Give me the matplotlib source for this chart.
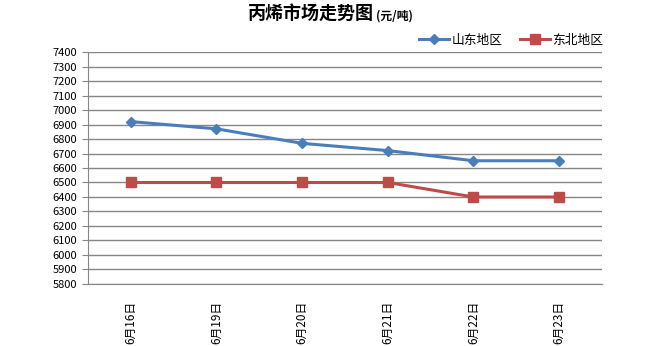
import matplotlib.pyplot as plt

plt.rcParams['font.family'] = ['Noto Sans CJK SC', 'DejaVu Sans']

# 价格数据 (元/吨)
dates = ['6月16日', '6月19日', '6月20日', '6月21日', '6月22日', '6月23日']
shandong = [6920, 6870, 6770, 6720, 6650, 6650]
dongbei = [6500, 6500, 6500, 6500, 6400, 6400]

fig = plt.figure(figsize=(6.5, 3.46), dpi=100)
ax = fig.add_axes([0.1354, 0.1792, 0.7906, 0.6705])

x = range(len(dates))
ax.plot(x, shandong, color='#4a7ebb', lw=2.2, marker='D', ms=5.5, label='山东地区')
ax.plot(x, dongbei, color='#be4b48', lw=2.2, marker='s', ms=7, label='东北地区')

ax.set_xlim(-0.5, len(dates) - 0.5)
ax.set_ylim(5800, 7400)
ax.set_yticks(range(5800, 7401, 100))
ax.set_xticks(list(x))
ax.set_xticklabels(dates, rotation=90, fontsize=8.5)
ax.tick_params(axis='y', labelsize=8, length=4, color='#868686', pad=4)
ax.tick_params(axis='x', length=0, pad=12)
ax.grid(axis='y', color='#868686', lw=1)
ax.set_axisbelow(True)
for s in ['top', 'right']:
    ax.spines[s].set_visible(False)
for s in ['left', 'bottom']:
    ax.spines[s].set_color('#868686')

leg = ax.legend(loc='lower right', bbox_to_anchor=(1.02, 0.985), ncol=2, frameon=False,
                fontsize=9.2, handlelength=2.3, columnspacing=1.4, handletextpad=0.2,
                borderaxespad=0.3)

fig.text(0.575, 0.962, '丙烯市场走势图', fontsize=13, fontweight='bold', ha='right', va='center')
fig.text(0.578, 0.955, '(元/吨)', fontsize=8.5, fontweight='bold', ha='left', va='center')

fig.savefig('out.png', dpi=100)
